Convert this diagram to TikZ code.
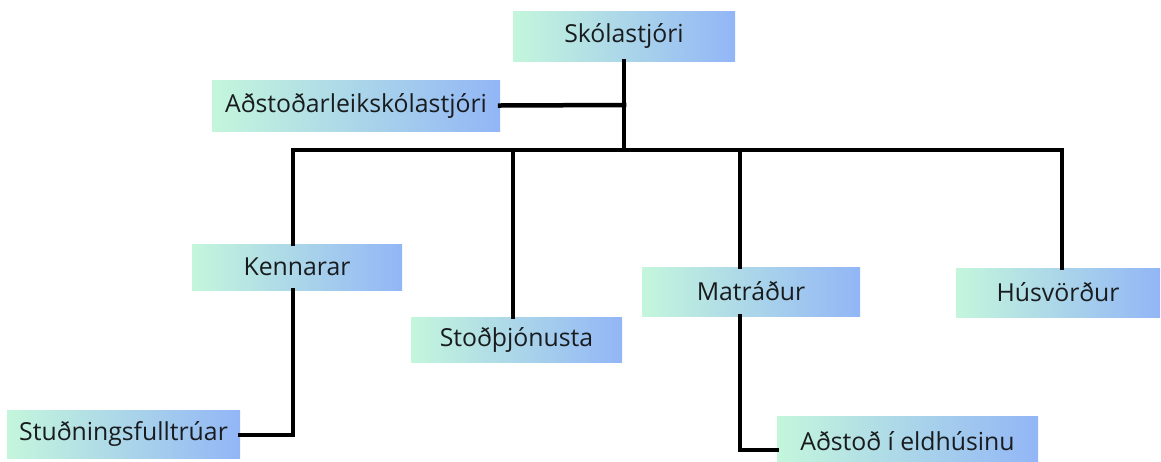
\documentclass[tikz,border=0pt]{standalone}
\usepackage{fontspec}
\setmainfont{Open Sans}
\definecolor{gL}{RGB}{196,246,220}
\definecolor{gR}{RGB}{146,182,246}
\definecolor{txt}{RGB}{25,28,30}
\begin{document}
\begin{tikzpicture}[x=1pt,y=-1pt,
  orgbox/.style={rectangle, inner sep=0pt, left color=gL, right color=gR, draw=none,
    text=txt, font=\fontsize{24.8}{28}\selectfont},
  conn/.style={line width=4.5pt, black, line join=miter, line cap=rect}]
\useasboundingbox (0,0) rectangle (1161,461);
\fill[white] (0,0) rectangle (1161,461);
% boxes
\node[orgbox, minimum width=222pt, minimum height=50pt] (skol) at (624,36) {Skólastjóri};
\node[orgbox, minimum width=288pt, minimum height=51pt] (adst) at (356,105.5) {Aðstoðarleikskólastjóri};
\node[orgbox, minimum width=210pt, minimum height=46pt] (kenn) at (297,267) {Kennarar};
\node[orgbox, minimum width=233pt, minimum height=48pt] (stud) at (123.5,434) {Stuðningsfulltrúar};
\node[orgbox, minimum width=211pt, minimum height=45pt] (stod) at (516.5,339.5) {Stoðþjónusta};
\node[orgbox, minimum width=218pt, minimum height=49pt] (matr) at (751,291.5) {Matráður};
\node[orgbox, minimum width=261pt, minimum height=50pt] (elhd) at (907.5,441) {Aðstoð í eldhúsinu};
\node[orgbox, minimum width=204pt, minimum height=49pt] (husv) at (1058,292.5) {Húsvörður};
% junction coordinates
\coordinate (jtop) at (624,150);
\coordinate (jadst) at (624,105);
\coordinate (bk) at (293,150);
\coordinate (bs) at (513,150);
\coordinate (bm) at (740,150);
\coordinate (bh) at (1062,150);
\coordinate (ks) at (293,435);
\coordinate (me) at (740,450);
% connectors
\draw[conn] (skol.south) -- (jtop);
\draw[conn] (adst.east) -- (jadst);
\draw[conn] (bk |- kenn.north) -- (bk) -- (bh) -- (bh |- husv.north);
\draw[conn] (bs) -- (bs |- stod.north);
\draw[conn] (bm) -- (bm |- matr.north);
\draw[conn] (bk |- kenn.south) -- (ks) -- (ks -| stud.east);
\draw[conn] (bm |- matr.south) -- (me) -- (me -| elhd.west);
\end{tikzpicture}
\end{document}
